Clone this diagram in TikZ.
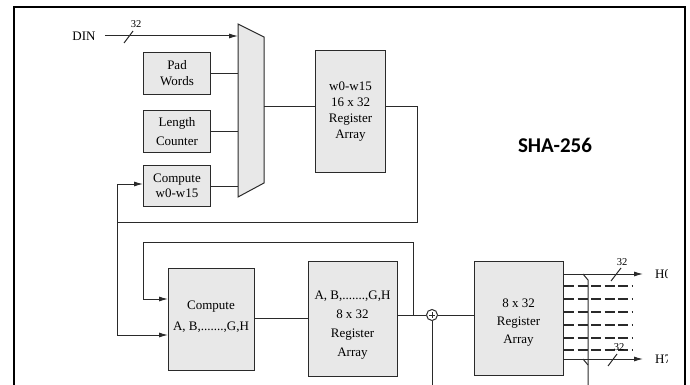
\documentclass[tikz,border=0pt]{standalone}
\usepackage{fontspec}
\setmainfont{Liberation Serif}
\newfontfamily\titlefont{Carlito}
\usetikzlibrary{arrows.meta}
\definecolor{linec}{HTML}{2A2A2A}
\definecolor{boxfill}{HTML}{E8E8E8}
\begin{document}
\begin{tikzpicture}[x=1pt,y=-1pt,
  box/.style={draw=linec, fill=boxfill, line width=1pt, inner sep=0pt, align=center, anchor=north west, font=\fontsize{13}{16}\selectfont},
  lbl/.style={inner sep=0pt, align=center, font=\fontsize{13}{16}\selectfont},
  small/.style={inner sep=0pt, font=\fontsize{10.5}{12}\selectfont},
  wire/.style={draw=linec, line width=1pt},
  arr/.style={wire, -{Latex[length=9pt,width=5pt]}},
  dsh/.style={wire, line width=1.1pt, dash pattern=on 10pt off 3.5pt}]
\useasboundingbox (0,0) rectangle (690,385);
% frame
\draw[line width=2.5pt, black] (14,395) -- (14,7) -- (685,7) -- (685,395);

% mux
\draw[draw=linec, fill=boxfill, line width=1pt] (238,24) -- (264,37) -- (264,183) -- (238,197) -- cycle;
\coordinate (muxL) at (238,100);
\coordinate (muxR) at (264,107);

% top boxes
\node[box, minimum width=67pt, minimum height=42pt, font=\fontsize{13}{16}\selectfont] (pad) at (143,52) {Pad\\Words};
\node[box, minimum width=67pt, minimum height=42pt, font=\fontsize{13}{19}\selectfont] (len) at (143,110) {Length\\Counter};
\node[box, minimum width=67pt, minimum height=41pt, font=\fontsize{13}{15}\selectfont] (cw) at (143,165) {Compute\\w0-w15};
\node[box, minimum width=70pt, minimum height=122pt] (wreg) at (315,50) {w0-w15\\16 x 32\\Register\\Array};

% DIN
\node[lbl] (din) at (84,36) {DIN};
\draw[arr] ([xshift=9pt]din.east) -- (din.east -| muxL);
\draw[wire] (124,43) -- (133,31);
\node[small] (w1) at (136,24) {32};

\draw[wire] (pad.east) -- (pad.east -| muxL);
\draw[wire] (len.east) -- (len.east -| muxL);
\draw[wire] (cw.east) -- (cw.east -| muxL);
\draw[wire] (muxR) -- (wreg.west |- muxR);

% title
\node[inner sep=0pt, font=\titlefont\bfseries\fontsize{21}{24}\selectfont] (title) at (555,145) {SHA-256};

% bottom boxes
\node[box, minimum width=86pt, minimum height=102pt] (cah) at (168,268) {};
\node[lbl, font=\fontsize{13}{21}\selectfont] (cahtxt) at (211,316.5) {Compute\\A, B,.......,G,H};
\node[box, minimum width=89pt, minimum height=115pt] (rah) at (308,261) {};
\node[lbl, font=\fontsize{13}{19}\selectfont] (rahtxt) at (352.5,325.5) {A, B,.......,G,H\\8 x 32\\Register\\Array};
\node[box, minimum width=89pt, minimum height=114pt] (r8) at (474,261) {};
\node[lbl, font=\fontsize{13}{18}\selectfont] (r8txt) at (518.5,323) {8 x 32\\Register\\Array};

% adder
\node[draw=linec, line width=1pt, circle, minimum size=11pt, inner sep=0pt, fill=white] (add) at (432,315) {};
\draw[linec, line width=0.9pt] (429,315) -- (435,315) (432,312) -- (432,318);

% feedback loop top
\coordinate (c1) at (417,107);
\coordinate (c2) at (417,222);
\coordinate (c3) at (117,222);
\draw[wire] (wreg.east |- c1) -- (c1) -- (c2) -- (c3);
\draw[arr] (c3) |- (cw.west |- 0,184);
\draw[arr] (c3) |- (cah.west |- 0,335);

% compute -> reg
\draw[wire] (cah.east |- 0,318) -- (rah.west |- 0,318);
\draw[wire] (rah.east |- add) -- (add.west);
\draw[wire] (add.east) -- (r8.west |- add);
\draw[wire] (add.south) -- (432,395);
% inner loop
\coordinate (d1) at (413,315);
\coordinate (d2) at (413,242);
\coordinate (d3) at (143,242);
\draw[wire] (d1) -- (d2) -- (d3);
\draw[arr] (d3) |- (cah.west |- 0,299);

% outputs
\coordinate (h0end) at (643,274);
\coordinate (h7end) at (643,359);
\draw[arr] (r8.east |- h0end) -- (h0end);
\draw[arr] (r8.east |- h7end) -- (h7end);
\foreach \yy in {286,299,312,325,338,350} \draw[dsh] (r8.east |- 0,\yy) -- (633,\yy);
\draw[wire] (583,274) -- (588,280) -- (588,395);
\draw[wire] (583,359) -- (588,365);
\draw[wire] (611,281) -- (621,268);
\node[small] (w2) at (622,262) {32};
\draw[wire] (608,366) -- (617,354);
\node[small] (w3) at (619,347) {32};
\begin{scope}
\clip (645,250) rectangle (667,380);
\node[lbl, anchor=west] (h0) at (655,274) {H0};
\node[lbl, anchor=west] (h7) at (655,359) {H7};
\end{scope}
\end{tikzpicture}
\end{document}
